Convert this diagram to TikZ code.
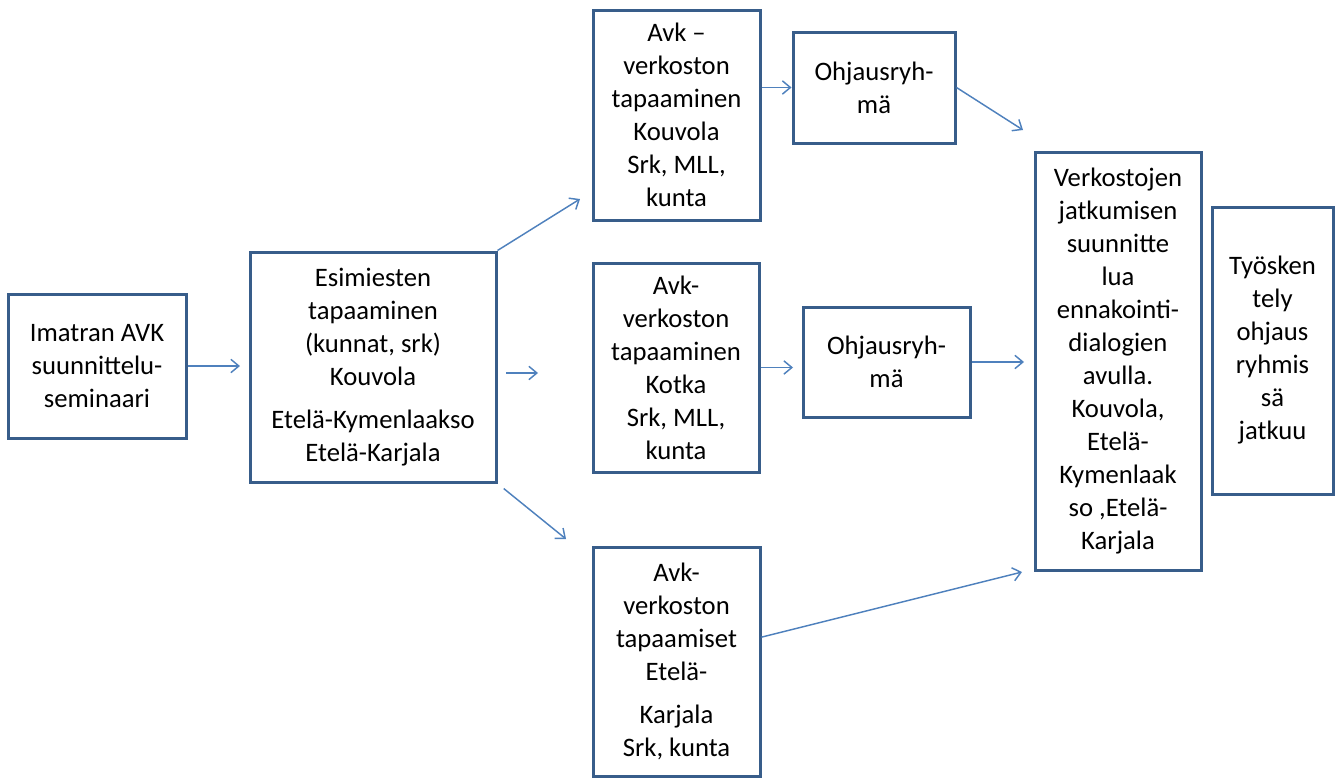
\documentclass[tikz,border=0pt]{standalone}
\usepackage{fontspec}
\setmainfont{Carlito}
\usetikzlibrary{arrows.meta}
\definecolor{boxblue}{RGB}{56,93,138}
\definecolor{arrowblue}{RGB}{79,129,189}
\tikzset{box/.style = {shape=rectangle,draw=boxblue,line width=2.25pt,align=center,inner sep=0pt}}
\tikzset{edge/.style = {draw=arrowblue,line width=1.1pt,-{Straight Barb[length=6pt,width=10pt]}}}

\begin{document}
\begin{tikzpicture}[x=0.75pt,y=-0.75pt,font=\fontsize{20}{24.75}\selectfont]
          \useasboundingbox (0,0) rectangle (1339,778);

          \node[box,minimum width=133.5pt,minimum height=108pt] (imatran) at (97,366) {Imatran AVK\\suunnittelu-\\seminaari};
          \node[box,minimum width=184.5pt,minimum height=172.5pt] (esimiehet) at (373,367) {Esimiesten\\tapaaminen\\(kunnat, srk)\\Kouvola\\[7.5pt]Etelä-Kymenlaakso\\Etelä-Karjala};
          \node[box,minimum width=125.25pt,minimum height=157.5pt] (kouvola) at (676.5,115) {Avk –\\verkoston\\tapaaminen\\Kouvola\\Srk, MLL,\\kunta};
          \node[box,minimum width=121.5pt,minimum height=83.25pt] (ohjaus1) at (874,87.5) {Ohjausryh-\\mä};
          \node[box,minimum width=124.5pt,minimum height=156.75pt] (kotka) at (676,367.5) {Avk-\\verkoston\\tapaaminen\\Kotka\\Srk, MLL,\\kunta};
          \node[box,minimum width=125.25pt,minimum height=82.5pt] (ohjaus2) at (886.5,362) {Ohjausryh-\\mä};
          \node[box,minimum width=125.25pt,minimum height=171.75pt] (karjala) at (676.5,661.5) {Avk-\\verkoston\\tapaamiset\\Etelä-\\[7pt]Karjala\\Srk, kunta};
          \node[box,minimum width=124.5pt,minimum height=313.5pt] (verkostot) at (1118,361) {Verkostojen\\jatkumisen\\suunnitte\\lua\\ennakointi-\\dialogien\\avulla.\\Kouvola,\\Etelä-\\Kymenlaak\\so ,Etelä-\\Karjala};
          \node[box,minimum width=90.75pt,minimum height=215.25pt] (tyoskentely) at (1272.5,350.5) {Työsken\\tely\\ohjaus\\ryhmis\\sä\\jatkuu};

          % arrow tips that stop short of the boxes
          \coordinate (tipA) at (240,366);
          \coordinate (tipK) at (580,199);
          \coordinate (tipE) at (566,539);
          \coordinate (freeS) at (506,373);
          \coordinate (freeT) at (538,373);
          \coordinate (tipO) at (793,367.5);
          \coordinate (tipV1) at (1023,130);
          \coordinate (tipV2) at (1024,362);
          \coordinate (tipV3) at (1022,572);

          \draw[edge] (imatran.east) -- (tipA);
          \draw[edge] (esimiehet.north east) -- (tipK);
          \draw[edge] (freeS) -- (freeT);
          \draw[edge,shorten <=6pt] (esimiehet.south east) -- (tipE);
          \draw[edge] (kouvola.east |- ohjaus1.west) -- (ohjaus1.west);
          \draw[edge] (kotka.east) -- (tipO);
          \draw[edge] (ohjaus1.east) -- (tipV1);
          \draw[edge] (ohjaus2.east) -- (tipV2);
          \draw[edge] (karjala.16) -- (tipV3);
        \end{tikzpicture}
\end{document}
